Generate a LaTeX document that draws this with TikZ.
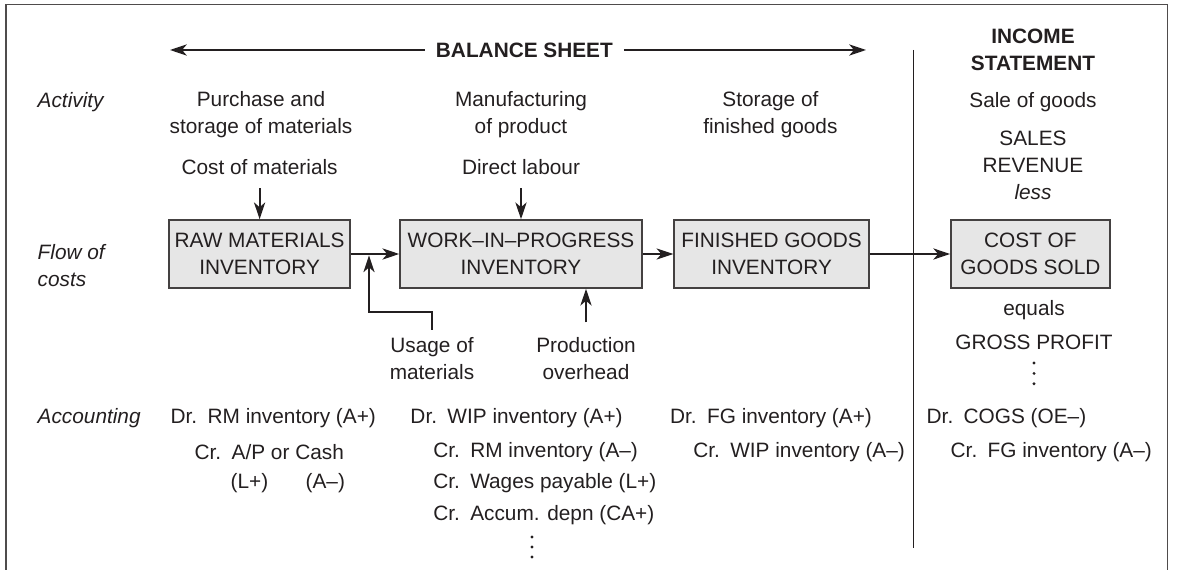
\documentclass[tikz,border=0pt]{standalone}
\usepackage{fontspec}
\setmainfont{Liberation Sans}
\usepackage{xcolor}
\usetikzlibrary{positioning,calc,arrows.meta}
\definecolor{ink}{HTML}{231F20}
\definecolor{boxfill}{HTML}{E6E6E6}
\newcommand{\basefont}{\fontsize{14.8}{19.2}\selectfont}

\begin{document}
\begin{tikzpicture}[
    font=\basefont, text=ink,
    lbl/.style={inner sep=1pt, align=center},
    rowlbl/.style={inner sep=1pt, anchor=west, font=\basefont\itshape},
    acct/.style={inner sep=1pt, anchor=west},
    costbox/.style={draw=ink!85, line width=1.1pt, fill=boxfill, minimum height=1.7cm, inner sep=2pt, align=center},
    arr/.style={draw=ink, line width=1.4pt, -{Stealth[length=4.2mm,width=2.8mm,inset=1.2mm]}}
]
    \useasboundingbox (0,0) rectangle (29.45,14.225);
    \draw[ink!80, line width=1.2pt] (0.15,-0.1) -- (0.15,14.11) -- (29.19,14.11) -- (29.19,-0.1); % Frame

    % Headings
    \node[lbl, inner xsep=0.27cm, font=\basefont\bfseries] (bs) at (13.11,12.975) {BALANCE SHEET};
    \coordinate (bsleft) at (4.25,12.975);
    \coordinate (bsright) at (21.65,12.975);
    \draw[arr] (bs.west) -- (bsleft);
    \draw[arr] (bs.east) -- (bsright);
    \node[lbl, font=\basefont\bfseries] (is) at (25.825,12.975) {INCOME\\STATEMENT};
    \coordinate (divtop) at (22.84,12.975);
    \coordinate (divbot) at (22.84,0.525);
    \draw[ink, line width=0.9pt] (divtop) -- (divbot); % Divider

    % Row labels
    \node[rowlbl] (activity) at (0.9,11.675) {Activity};
    \node[rowlbl, align=left] (flow) at (0.9,7.5875) {Flow of\\costs};
    \node[rowlbl] (accounting) at (0.9,3.775) {Accounting};

    % Activities
    \node[lbl] (purchase) at (6.525,11.35) {Purchase and\\storage of materials};
    \node[lbl] (manuf) at (13.025,11.35) {Manufacturing\\of product};
    \node[lbl] (storage) at (19.26,11.35) {Storage of\\finished goods};
    \node[lbl] (sale) at (25.825,11.675) {Sale of goods};
    \node[lbl] (sales) at (25.825,10.0875) {SALES\\REVENUE\\\textit{less}};

    % Inputs
    \node[lbl] (costmat) at (6.49,10.05) {Cost of materials};
    \node[lbl] (dlabour) at (13.025,10.05) {Direct labour};

    % Flow of costs
    \node[costbox, minimum width=4.525cm] (rm) at (6.49,7.875) {RAW MATERIALS\\INVENTORY};
    \node[costbox, minimum width=6.05cm] (wip) at (13.025,7.875) {WORK–IN–PROGRESS\\INVENTORY};
    \node[costbox, minimum width=4.875cm] (fg) at (19.29,7.875) {FINISHED GOODS\\INVENTORY};
    \node[costbox, minimum width=3.975cm] (cogs) at (25.76,7.875) {COST OF\\GOODS SOLD};
    \draw[arr] (rm) -- (wip);
    \draw[arr] (wip) -- (fg);
    \draw[arr] (fg) -- (cogs);
    \draw[arr, shorten <=3mm] (costmat) -- (rm);
    \draw[arr, shorten <=3mm] (dlabour) -- (wip);

    \node[lbl] (usage) at (10.8,5.2625) {Usage of\\materials};
    \node[lbl] (prod) at (14.65,5.2625) {Production\\overhead};
    \coordinate (join) at (9.225,7.875);
    \coordinate (bend) at (9.225,6.425);
    \draw[arr, shorten >=1pt] ([yshift=1.5mm]usage.north) |- (bend) -- (join);
    \draw[arr] ([yshift=3.3mm]prod.north) -- (prod.north |- wip.south);

    % Income statement
    \node[lbl] (equals) at (25.85,6.475) {equals};
    \node[lbl] (gp) at (25.85,5.675) {GROSS PROFIT};
    \coordinate (gpdots) at (25.85,5.15);
    \foreach \k in {0,1,2}
        \fill[ink] ($(gpdots)+(0,-0.26*\k)$) circle (0.04);

    % Accounting entries
    \node[acct] (drrm) at (4.225,3.775) {Dr.\enspace RM inventory (A+)};
    \node[acct] (crap) at (4.825,2.925) {Cr.\enspace A/P or Cash};
    \node[acct] (lplus) at (5.725,2.15) {(L+)};
    \node[acct] (aminus) at (7.6,2.15) {(A–)};

    \node[acct] (drwip) at (10.22,3.775) {Dr.\enspace WIP inventory (A+)};
    \node[acct] (crrm) at (10.79,2.925) {Cr.\enspace RM inventory (A–)};
    \node[acct] (crwages) at (10.79,2.15) {Cr.\enspace Wages payable (L+)};
    \node[acct] (craccum) at (10.79,1.35) {Cr.\enspace Accum. depn (CA+)};
    \coordinate (wipdots) at (13.3,0.8);
    \foreach \k in {0,1,2}
        \fill[ink] ($(wipdots)+(0,-0.25*\k)$) circle (0.04);

    \node[acct] (drfg) at (16.71,3.775) {Dr.\enspace FG inventory (A+)};
    \node[acct] (crwip) at (17.29,2.925) {Cr.\enspace WIP inventory (A–)};

    \node[acct] (drcogs) at (23.125,3.775) {Dr.\enspace COGS (OE–)};
    \node[acct] (crfg) at (23.725,2.925) {Cr.\enspace FG inventory (A–)};
\end{tikzpicture}
\end{document}
